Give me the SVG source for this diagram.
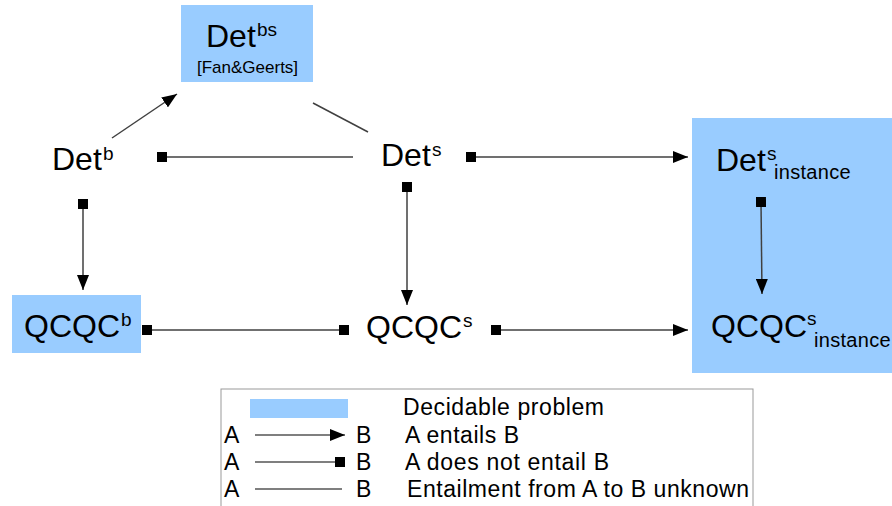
<svg xmlns="http://www.w3.org/2000/svg" width="892" height="506" viewBox="0 0 892 506">
<defs>
<marker id="arrow" markerUnits="userSpaceOnUse" markerWidth="16" markerHeight="12" refX="15" refY="6" orient="auto">
<path d="M0,0 L15,6 L0,12 Z" fill="#000"/>
</marker>
<marker id="sq" markerUnits="userSpaceOnUse" markerWidth="10" markerHeight="10" refX="5" refY="5" orient="auto">
<rect x="0" y="0" width="10" height="10" fill="#000"/>
</marker>
</defs>
<style>
.dec{fill:#99ccff}
text{font-family:"Liberation Sans",Arial,sans-serif;fill:#000}
.m{font-size:32px}
.sup{font-size:19px}
.sub{font-size:20px}
.ref{font-size:17px}
.lg{font-size:23px}
.c{stroke:#404040;stroke-width:1.5;fill:none}
.lc{stroke:#000;stroke-width:1.2;fill:none}
</style>
<rect width="892" height="506" fill="#fff"/>

<g id="Detbs">
<rect class="dec" x="181" y="5" width="132" height="77"/>
<text class="m" x="206" y="47">Det</text>
<text class="sup" x="257" y="36">bs</text>
<text class="ref" x="197" y="73">[Fan&amp;Geerts]</text>
</g>

<g id="Detb">
<text class="m" x="52" y="170">Det</text>
<text class="sup" x="103" y="160">b</text>
</g>

<g id="Dets">
<text class="m" x="381" y="166">Det</text>
<text class="sup" x="432" y="156">s</text>
</g>

<g id="Dets_instance">
<rect class="dec" x="692" y="118" width="200" height="255"/>
<text class="m" x="716" y="171">Det</text>
<text class="sup" x="767" y="160">s</text>
<text class="sub" x="774" y="179" letter-spacing="0.3">instance</text>
</g>

<g id="QCQCb">
<rect class="dec" x="12" y="295" width="129" height="58"/>
<text class="m" x="24" y="337">QCQC</text>
<text class="sup" x="121" y="326">b</text>
</g>

<g id="QCQCs">
<text class="m" x="366" y="338">QCQC</text>
<text class="sup" x="463" y="327">s</text>
</g>

<g id="QCQCs_instance">
<text class="m" x="711" y="337">QCQC</text>
<text class="sup" x="807" y="325">s</text>
<text class="sub" x="814" y="347" letter-spacing="0.3">instance</text>
</g>

<g id="connectors">
<line class="c" x1="112" y1="138" x2="177" y2="94" marker-end="url(#arrow)"/>
<line class="c" x1="313" y1="103" x2="368" y2="132"/>
<line class="c" x1="353" y1="157" x2="162" y2="157" marker-end="url(#sq)"/>
<line class="c" x1="471" y1="157" x2="688" y2="157" marker-start="url(#sq)" marker-end="url(#arrow)"/>
<line class="c" x1="83" y1="204" x2="83" y2="290" marker-start="url(#sq)" marker-end="url(#arrow)"/>
<line class="c" x1="407" y1="187" x2="407" y2="305" marker-start="url(#sq)" marker-end="url(#arrow)"/>
<line class="c" x1="761" y1="202" x2="762" y2="294" marker-start="url(#sq)" marker-end="url(#arrow)"/>
<line class="c" x1="147" y1="330" x2="344" y2="330" marker-start="url(#sq)" marker-end="url(#sq)"/>
<line class="c" x1="496" y1="330" x2="688" y2="330" marker-start="url(#sq)" marker-end="url(#arrow)"/>
</g>

<g id="legend">
<rect x="221" y="389" width="532" height="125" fill="#fff" stroke="#999" stroke-width="1"/>
<rect class="dec" x="250" y="399" width="98" height="19"/>
<text class="lg" x="403" y="415" textLength="201">Decidable problem</text>
<text class="lg" x="224" y="443">A</text>
<line class="lc" x1="255" y1="435" x2="345" y2="435" marker-end="url(#arrow)"/>
<text class="lg" x="356" y="443">B</text>
<text class="lg" x="405" y="443" textLength="114">A entails B</text>
<text class="lg" x="224" y="470">A</text>
<line class="lc" x1="255" y1="462" x2="340" y2="462" marker-end="url(#sq)"/>
<text class="lg" x="356" y="470">B</text>
<text class="lg" x="405" y="470" textLength="204">A does not entail B</text>
<text class="lg" x="224" y="497">A</text>
<line class="lc" x1="255" y1="489" x2="342" y2="489"/>
<text class="lg" x="356" y="497">B</text>
<text class="lg" x="407" y="497" textLength="342">Entailment from A to B unknown</text>
</g>
</svg>
